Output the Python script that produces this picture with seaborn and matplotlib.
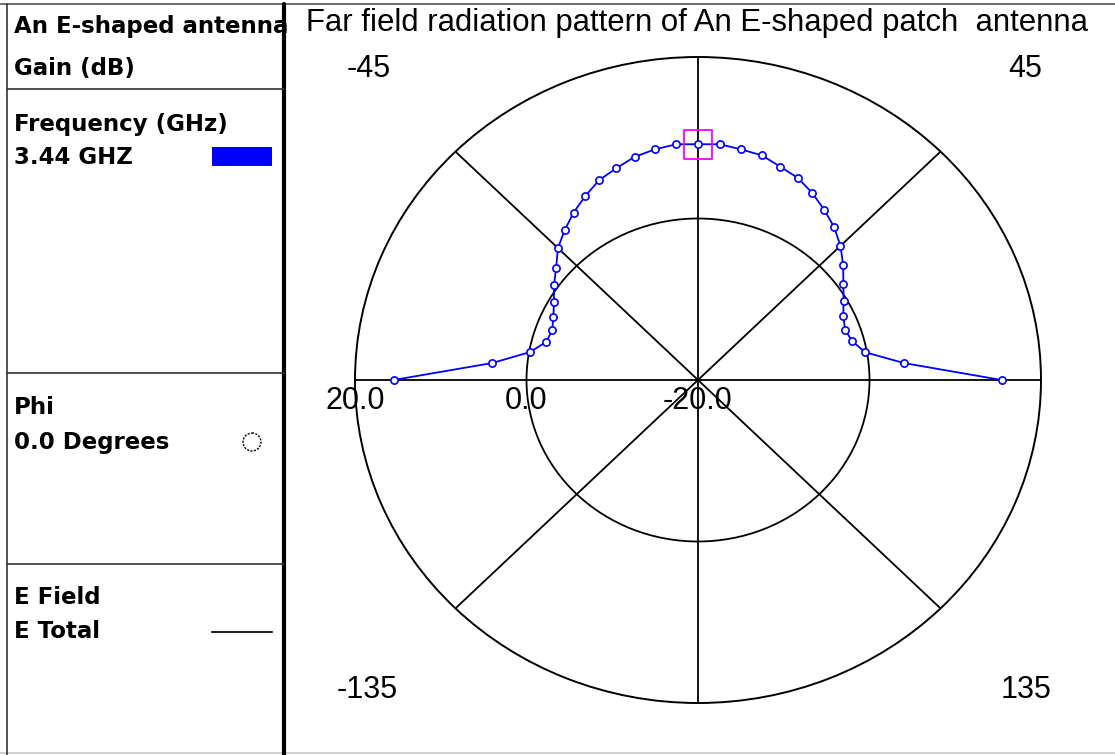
import numpy as np
import pandas as pd
import matplotlib
matplotlib.use("Agg")
import matplotlib.pyplot as plt
import seaborn as sns
from matplotlib.patches import Rectangle, Ellipse

# ---------------- data ----------------
theta_deg = [-90, -85, -80, -75, -70, -65, -60, -55, -50, -45, -40, -35, -30,
             -25, -20, -15, -10, -5, 0, 5, 10, 15, 20, 25, 30, 35, 40, 45,
             50, 55, 60, 65, 70, 75, 80, 85, 90]
gain_db = [15.5, 4.1, -0.1, -1.7, -1.9, -1.4, -0.6, 0.5, 1.6, 3.1, 4.2, 5.3, 6.3,
           7.3, 7.9, 8.6, 9.0, 9.3, 9.2, 9.3, 9.0, 8.8, 8.1, 7.6, 6.7, 5.7, 4.7,
           3.5, 2.1, 0.7, -0.4, -1.3, -1.75, -1.4, -0.2, 4.1, 15.4]
peak_deg = [0]
peak_gain = [9.2]

r_ticks = [20, 0, -20]
r_tick_labels = ["20.0", "0.0", "-20.0"]
angle_labels = ["-45", "45", "-135", "135"]

title = "Far field radiation pattern of An E-shaped patch  antenna"
panel_texts = ["An E-shaped antenna", "Gain (dB)", "Frequency (GHz)", "3.44 GHZ",
               "Phi", "0.0 Degrees", "E Field", "E Total"]

# ---------------- style ----------------
sns.set_theme(style="white")
plt.rcParams["font.family"] = ["DejaVu Sans"]

W, H = 1115, 755
fig = plt.figure(figsize=(W / 100, H / 100), dpi=100)
fig.patch.set_facecolor("white")

# overlay axes in pixel coordinates for the side panel and labels
ov = fig.add_axes([0, 0, 1, 1])
ov.set_xlim(0, W)
ov.set_ylim(H, 0)
ov.axis("off")
ov.patch.set_alpha(0)

# ---------------- polar chart ----------------
left, right, top, bottom = 355, 1041, 57, 703
ax = fig.add_axes([left / W, 1 - bottom / H, (right - left) / W, (bottom - top) / H],
                  projection="polar")
ax.set_aspect("auto")
ax.set_theta_zero_location("N")
ax.set_theta_direction(-1)
ax.set_rlim(-20, 20)
ax.set_thetagrids(np.arange(0, 360, 45), labels=[""] * 8)
ax.set_rgrids([0], labels=[""])
ax.grid(True, color="black", linewidth=1.3)
ax.spines["polar"].set_color("black")
ax.spines["polar"].set_linewidth(1.4)
ax.set_facecolor("white")

df = pd.DataFrame({"theta": np.deg2rad(theta_deg), "gain": gain_db})
sns.lineplot(data=df, x="theta", y="gain", ax=ax, sort=False, color="blue",
             linewidth=1.3, marker="o", markersize=5.2, markerfacecolor="white",
             markeredgecolor="blue", markeredgewidth=1.2, zorder=5)

pk = pd.DataFrame({"theta": np.deg2rad(peak_deg), "gain": peak_gain})
sns.scatterplot(data=pk, x="theta", y="gain", ax=ax, marker="s", s=430,
                facecolor="none", edgecolor="magenta", linewidth=1.3, zorder=6)
ax.set_xlabel("")
ax.set_ylabel("")

label_font = dict(family="Liberation Sans", fontsize=22, color="black")
for r, lab in zip(r_ticks, r_tick_labels):
    ax.annotate(lab, xy=(np.deg2rad(-90), r), xytext=(0, -4.5),
                textcoords="offset points", ha="center", va="top",
                annotation_clip=False, zorder=7, **label_font)

# angle labels at the corners
for lab, (px, py) in zip(angle_labels, [(369, 69), (1025, 69), (367, 690), (1026, 690)]):
    ov.text(px, py, lab, ha="center", va="center", **label_font)

# title
title_font = dict(label_font, fontsize=22.4)
ov.text(306, 30.7, title, ha="left", va="baseline", **title_font)

# ---------------- side panel ----------------
edge = "#333333"
ov.plot([0, W], [4, 4], color="#555555", lw=1.2)
ov.plot([0, W], [753, 753], color="#c8c8c8", lw=1.2)
ov.plot([7, 7], [4, H], color=edge, lw=1.2)
ov.plot([284, 284], [4, H], color="black", lw=3)
for yy in [89, 373, 564]:
    ov.plot([7, 284], [yy, yy], color=edge, lw=1.2)

bold = dict(family="DejaVu Sans", fontweight="bold", fontsize=16.5, color="black")
ys = [27, 69, 124, 157, 408, 442, 598, 632]
clip = Rectangle((7, 4), 276, 85, transform=ov.transData, visible=False)
ov.add_patch(clip)
for t, yy in zip(panel_texts, ys):
    txt = ov.text(14, yy, t, ha="left", va="center", **bold)
    if yy == 27:
        txt.set_clip_path(clip)

ov.add_patch(Rectangle((212, 147), 60, 19, facecolor="blue", edgecolor="none"))
ov.add_patch(Ellipse((252, 442), 18, 18, facecolor="none", edgecolor="black",
                     lw=1.0, linestyle=(0, (1.5, 1))))
ov.plot([212, 272], [632, 632], color="#222222", lw=1.5)

fig.savefig("out.png", dpi=100, facecolor="white")
